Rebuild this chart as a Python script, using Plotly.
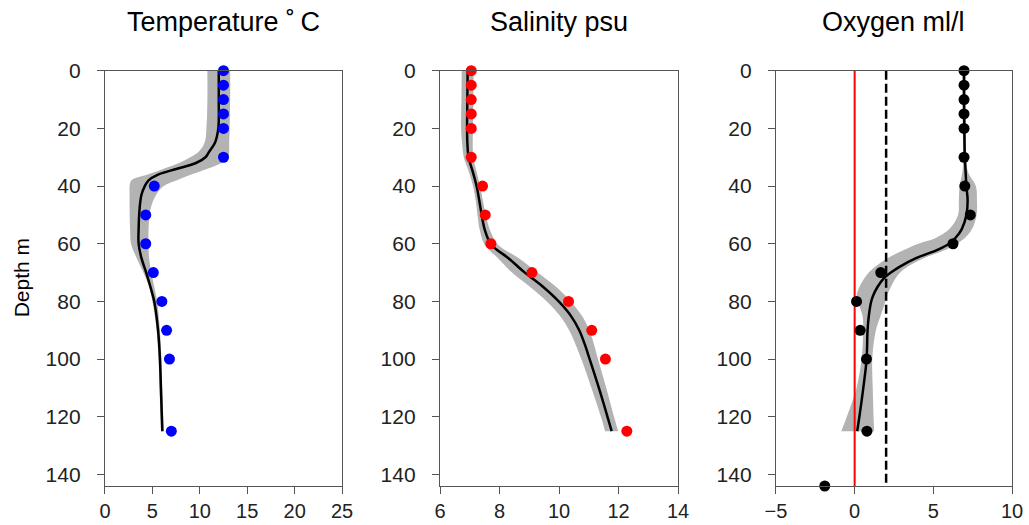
import plotly.graph_objects as go

# --- observations -----------------------------------------------------------
obs_depth = [0, 5, 10, 15, 20, 30, 40, 50, 60, 70, 80, 90, 100, 125]
temp_obs = [12.5, 12.5, 12.5, 12.5, 12.5, 12.5, 5.2, 4.3, 4.3, 5.1, 6.0, 6.5, 6.8, 7.0]
sal_obs = [7.05, 7.05, 7.05, 7.05, 7.05, 7.05, 7.43, 7.52, 7.71, 9.09, 10.32, 11.1, 11.56, 12.28]

oxy_depth = [0, 5, 10, 15, 20, 30, 40, 50, 60, 70, 80, 90, 100, 125, 144]
oxy_obs = [6.95, 6.95, 6.95, 6.95, 6.95, 6.95, 7.0, 7.35, 6.25, 1.66, 0.12, 0.35, 0.75, 0.78, -1.9]

# --- smoothed profiles with confidence band ---------------------------------
t_depth = [0, 10, 20, 25, 28, 30, 32, 34, 36, 38, 40, 43, 48, 55, 60, 65, 70, 75, 80, 90, 100, 110, 120, 125]
t_fit = [12.0, 12.0, 11.95, 11.6, 11.0, 10.6, 9.6, 7.6, 5.6, 4.6, 4.2, 3.85, 3.65, 3.55, 3.55, 3.85, 4.35, 4.8, 5.2, 5.6, 5.8, 5.9, 6.0, 6.05]
t_lo = [10.8, 10.8, 10.7, 10.5, 9.9, 9.0, 7.8, 6.2, 4.5, 2.8, 2.6, 2.6, 2.6, 2.65, 2.75, 3.35, 4.05, 4.65, 5.0, 5.45, 5.65, 5.75, 5.85, 5.9]
t_hi = [13.2, 13.2, 13.15, 13.1, 13.1, 13.0, 12.3, 10.8, 9.1, 7.6, 6.2, 5.4, 4.8, 4.6, 4.6, 4.65, 4.9, 5.2, 5.5, 5.8, 5.95, 6.05, 6.15, 6.2]

s_depth = [0, 10, 20, 25, 30, 35, 40, 45, 50, 55, 60, 62, 65, 70, 75, 80, 85, 90, 95, 100, 110, 120, 125]
s_fit = [6.93, 6.92, 6.91, 6.92, 6.96, 7.1, 7.23, 7.32, 7.4, 7.5, 7.7, 7.9, 8.3, 8.85, 9.47, 9.99, 10.4, 10.68, 10.87, 11.03, 11.34, 11.63, 11.77]
s_lo = [6.73, 6.72, 6.71, 6.74, 6.80, 6.97, 7.11, 7.20, 7.26, 7.33, 7.48, 7.64, 7.95, 8.42, 9.03, 9.59, 10.03, 10.34, 10.56, 10.75, 11.09, 11.41, 11.55]
s_hi = [7.13, 7.12, 7.11, 7.10, 7.12, 7.23, 7.35, 7.44, 7.54, 7.67, 7.92, 8.16, 8.65, 9.28, 9.91, 10.39, 10.77, 11.02, 11.18, 11.31, 11.59, 11.85, 11.99]

o_depth = [0, 10, 20, 30, 35, 40, 45, 50, 55, 58, 60, 62, 65, 68, 70, 72, 75, 78, 80, 85, 90, 100, 110, 120, 125]
o_fit = [6.95, 6.95, 6.97, 7.0, 7.05, 7.1, 7.18, 7.1, 6.8, 6.4, 6.0, 5.3, 3.9, 2.85, 2.3, 1.85, 1.45, 1.17, 1.05, 0.9, 0.82, 0.76, 0.55, 0.3, 0.16]
o_lo = [6.85, 6.85, 6.87, 6.9, 6.85, 6.67, 6.62, 6.57, 6.0, 5.15, 4.05, 3.2, 2.1, 1.3, 0.9, 0.62, 0.3, 0.12, 0.2, 0.5, 0.54, 0.44, 0.12, -0.5, -0.85]
o_hi = [7.05, 7.05, 7.07, 7.1, 7.2, 7.7, 7.77, 7.75, 7.45, 7.0, 6.5, 5.83, 4.4, 3.35, 2.9, 2.6, 2.3, 2.05, 1.95, 1.65, 1.35, 1.12, 1.15, 1.2, 1.24]

# oxygen reference levels (ml/l)
anoxic_level = 0
hypoxic_level = 2

depth_max = 144
titles = ["Temperature ˚\u2009C", "Salinity psu", "Oxygen ml/l"]

FONT = "Liberation Sans, Arial, sans-serif"
BAND = "#b3b3b3"
AXIS = "#555555"

fig = go.Figure()


def add_band(n, depth, lo, hi):
    xa, ya = f"x{n}", f"y{n}"
    fig.add_trace(go.Scatter(x=lo, y=depth, xaxis=xa, yaxis=ya, mode="lines",
                             line=dict(width=0, shape="spline"), hoverinfo="skip",
                             showlegend=False))
    fig.add_trace(go.Scatter(x=hi, y=depth, xaxis=xa, yaxis=ya, mode="lines",
                             line=dict(width=0, shape="spline"), fill="tonextx",
                             fillcolor=BAND, hoverinfo="skip", showlegend=False))
    return xa, ya


def add_fit_and_obs(xa, ya, depth, fit, od, ov, colour):
    fig.add_trace(go.Scatter(x=fit, y=depth, xaxis=xa, yaxis=ya, mode="lines",
                             line=dict(color="black", width=2.5, shape="spline"),
                             showlegend=False))
    fig.add_trace(go.Scatter(x=ov, y=od, xaxis=xa, yaxis=ya, mode="markers",
                             marker=dict(color=colour, size=11), cliponaxis=False,
                             showlegend=False))


xa, ya = add_band(1, t_depth, t_lo, t_hi)
add_fit_and_obs(xa, ya, t_depth, t_fit, obs_depth, temp_obs, "#0000ff")

xa, ya = add_band(2, s_depth, s_lo, s_hi)
add_fit_and_obs(xa, ya, s_depth, s_fit, obs_depth, sal_obs, "#ff0000")

xa, ya = add_band(3, o_depth, o_lo, o_hi)
fig.add_trace(go.Scatter(x=[anoxic_level, anoxic_level], y=[0, depth_max], xaxis=xa, yaxis=ya,
                         mode="lines", line=dict(color="#ff0000", width=2), showlegend=False))
fig.add_trace(go.Scatter(x=[hypoxic_level, hypoxic_level], y=[0, depth_max], xaxis=xa, yaxis=ya,
                         mode="lines", line=dict(color="black", width=2.5, dash="9px,4px"),
                         showlegend=False))
add_fit_and_obs(xa, ya, o_depth, o_fit, oxy_depth, oxy_obs, "black")

x_domains = [[0.102, 0.3324], [0.4276, 0.6589], [0.7541, 0.9835]]
x_ranges = [[0, 25], [6, 14], [-5, 10]]
x_dticks = [5, 2, 5]
y_domain = [0.0743, 0.8653]

common = dict(showline=True, mirror=True, linecolor=AXIS, linewidth=1.3,
              ticks="outside", ticklen=7, tickwidth=1.3, tickcolor=AXIS,
              showgrid=False, zeroline=False, automargin=False,
              tickfont=dict(family=FONT, size=21, color="#222222"))

layout = dict(width=1029, height=525, margin=dict(l=0, r=0, t=0, b=0),
              paper_bgcolor="white", plot_bgcolor="white", showlegend=False)
annotations = []
for i in range(3):
    n = "" if i == 0 else str(i + 1)
    layout[f"xaxis{n}"] = dict(domain=x_domains[i], range=x_ranges[i], dtick=x_dticks[i],
                               tick0=x_ranges[i][0], anchor=f"y{i + 1}",
                               ticklabelstandoff=0, **common)
    layout[f"xaxis{n}"]["tickfont"] = dict(family=FONT, size=20, color="#222222")
    layout[f"yaxis{n}"] = dict(domain=y_domain, range=[depth_max, 0], dtick=20,
                               anchor=f"x{i + 1}", ticklabelstandoff=12, **common)
    annotations.append(dict(text=titles[i], xref="paper", yref="paper",
                            x=sum(x_domains[i]) / 2, y=1 - 39 / 525,
                            xanchor="center", yanchor="bottom", showarrow=False,
                            font=dict(family=FONT, size=27, color="black")))

annotations.append(dict(text="Depth m", xref="paper", yref="paper", x=21 / 1029,
                        y=sum(y_domain) / 2, xanchor="center", yanchor="middle",
                        textangle=-90, showarrow=False,
                        font=dict(family=FONT, size=21, color="black")))
layout["annotations"] = annotations

fig.update_layout(**layout)
fig.write_html("out.html")
